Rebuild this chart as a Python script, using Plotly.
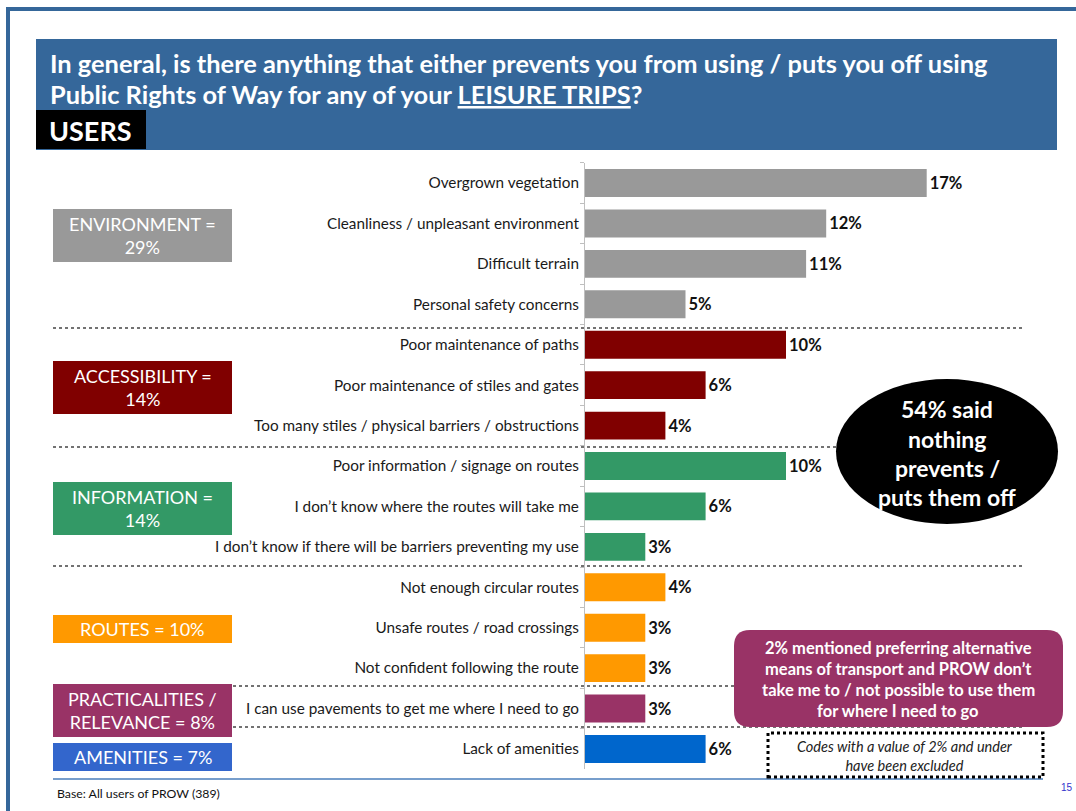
import plotly.graph_objects as go

W, H = 1076, 811

categories = [
    "Overgrown vegetation",
    "Cleanliness / unpleasant environment",
    "Difficult terrain",
    "Personal safety concerns",
    "Poor maintenance of paths",
    "Poor maintenance of stiles and gates",
    "Too many stiles / physical barriers / obstructions",
    "Poor information / signage on routes",
    "I don’t know where the routes will take me",
    "I don’t know if there will be barriers preventing my use",
    "Not enough circular routes",
    "Unsafe routes / road crossings",
    "Not confident following the route",
    "I can use pavements to get me where I need to go",
    "Lack of amenities",
]
values = [17, 12, 11, 5, 10, 6, 4, 10, 6, 3, 4, 3, 3, 3, 6]
groups = ["env"] * 4 + ["acc"] * 3 + ["info"] * 3 + ["routes"] * 3 + ["pract"] + ["amen"]

group_names = ["env", "acc", "info", "routes", "pract", "amen"]
group_labels = ["ENVIRONMENT =<br>29%", "ACCESSIBILITY =<br>14%", "INFORMATION =<br>14%",
                "ROUTES = 10%", "PRACTICALITIES /<br>RELEVANCE = 8%", "AMENITIES = 7%"]
bar_colors = {"env": "#999999", "acc": "#800000", "info": "#339966",
              "routes": "#FF9900", "pract": "#993366", "amen": "#0066CC"}
box_colors = {"env": "#999999", "acc": "#800000", "info": "#339966",
              "routes": "#FF9900", "pract": "#993366", "amen": "#3366CC"}
# box pixel extents (top, bottom)
box_y = {"env": (209, 262), "acc": (361, 414), "info": (482, 535),
         "routes": (615, 643), "pract": (684, 737), "amen": (743, 771)}


def px(x):
    return x / W


def py(y):
    return 1 - y / H


FONT = "Lato"

fig = go.Figure()
fig.add_trace(go.Bar(
    y=categories, x=values, orientation="h",
    marker=dict(color=[bar_colors[g] for g in groups], line=dict(width=0)),
    width=0.69,
    text=[f"{v}%" for v in values], textposition="outside",
    textfont=dict(family=FONT, size=16.5, color="#111111", weight="bold"),
    cliponaxis=False, hoverinfo="skip",
))

shapes = []
annotations = []

# slide frame
shapes.append(dict(type="line", xref="paper", yref="paper", x0=px(6), x1=px(1076), y0=py(9), y1=py(9),
                   line=dict(color="#35679A", width=4)))
shapes.append(dict(type="line", xref="paper", yref="paper", x0=px(8), x1=px(8), y0=py(7), y1=py(811),
                   line=dict(color="#35679A", width=4)))

# title banner
shapes.append(dict(type="rect", xref="paper", yref="paper", x0=px(36), x1=px(1057), y0=py(150), y1=py(39),
                   fillcolor="#35679A", line=dict(width=0), layer="below"))
shapes.append(dict(type="rect", xref="paper", yref="paper", x0=px(36), x1=px(146), y0=py(149), y1=py(110),
                   fillcolor="#000000", line=dict(width=0)))
annotations.append(dict(xref="paper", yref="paper", x=px(48), y=py(63), xanchor="left", yanchor="middle",
                        showarrow=False, align="left",
                        text="In general, is there anything that either prevents you from using / puts you off using",
                        font=dict(family=FONT, size=25.4, color="white", weight="bold")))
annotations.append(dict(xref="paper", yref="paper", x=px(48), y=py(94), xanchor="left", yanchor="middle",
                        showarrow=False, align="left",
                        text="Public Rights of Way for any of your <u>LEISURE TRIPS</u>?",
                        font=dict(family=FONT, size=25.4, color="white", weight="bold")))
annotations.append(dict(xref="paper", yref="paper", x=px(90), y=py(130), xanchor="center", yanchor="middle",
                        showarrow=False, text="USERS",
                        font=dict(family=FONT, size=27, color="white", weight="bold")))

# group boxes
for g, lab in zip(group_names, group_labels):
    t, b = box_y[g]
    shapes.append(dict(type="rect", xref="paper", yref="paper", x0=px(53), x1=px(232), y0=py(b), y1=py(t),
                       fillcolor=box_colors[g], line=dict(width=0)))
    annotations.append(dict(xref="paper", yref="paper", x=px(142.5), y=py((t + b) / 2), xanchor="center",
                            yanchor="middle", showarrow=False, text=lab, align="center",
                            font=dict(family=FONT, size=18, color="white")))

# dotted separators
for y0, xa, xb in [(328, 53, 1024), (447, 53, 1024), (566, 53, 1024), (686, 233, 1024), (727, 233, 1024)]:
    shapes.append(dict(type="line", xref="paper", yref="paper", x0=px(xa), x1=px(xb), y0=py(y0), y1=py(y0),
                       line=dict(color="#444444", width=1.5, dash="dot")))

# black ellipse
shapes.append(dict(type="circle", xref="paper", yref="paper", x0=px(836), x1=px(1058), y0=py(524), y1=py(379),
                   fillcolor="#000000", line=dict(width=0)))
for txt, yy in [("54% said", 409), ("nothing", 439), ("prevents /", 468), ("puts them off", 497)]:
    annotations.append(dict(xref="paper", yref="paper", x=px(947), y=py(yy), xanchor="center", yanchor="middle",
                            showarrow=False, text=txt,
                            font=dict(family=FONT, size=23, color="white", weight="bold")))

# purple rounded box
x0, x1, y0, y1, r = 734, 1063, 630, 727, 16


def P(x, y):
    return f"{px(x):.5f},{py(y):.5f}"


path = (f"M {P(x0 + r, y0)} L {P(x1 - r, y0)} Q {P(x1, y0)} {P(x1, y0 + r)} "
        f"L {P(x1, y1 - r)} Q {P(x1, y1)} {P(x1 - r, y1)} L {P(x0 + r, y1)} "
        f"Q {P(x0, y1)} {P(x0, y1 - r)} L {P(x0, y0 + r)} Q {P(x0, y0)} {P(x0 + r, y0)} Z")
shapes.append(dict(type="path", xref="paper", yref="paper", path=path, fillcolor="#993366",
                   line=dict(width=0)))
for txt, yy in [("2% mentioned preferring alternative", 648), ("means of transport and PROW don’t", 669),
                ("take me to / not possible to use them", 690), ("for where I need to go", 711)]:
    annotations.append(dict(xref="paper", yref="paper", x=px(898), y=py(yy), xanchor="center", yanchor="middle",
                            showarrow=False, text=txt,
                            font=dict(family=FONT, size=16.5, color="white", weight="bold")))

# codes box
shapes.append(dict(type="rect", xref="paper", yref="paper", x0=px(768), x1=px(1043), y0=py(777), y1=py(733),
                   fillcolor="white", line=dict(color="#000000", width=3, dash="dot")))
annotations.append(dict(xref="paper", yref="paper", x=px(905), y=py(756), xanchor="center", yanchor="middle",
                        showarrow=False, text="<i>Codes with a value of 2% and under<br>have been excluded</i>",
                        font=dict(family=FONT, size=14.5, color="#222222")))

# bottom line and footer
shapes.append(dict(type="line", xref="paper", yref="paper", x0=px(53), x1=px(1043), y0=py(779), y1=py(779),
                   line=dict(color="#4A7EBB", width=1.5), layer="below"))
annotations.append(dict(xref="paper", yref="paper", x=px(55), y=py(793), xanchor="left", yanchor="middle",
                        showarrow=False, text="Base: All users of PROW (389)",
                        font=dict(family=FONT, size=12.3, color="#111111")))
annotations.append(dict(xref="paper", yref="paper", x=px(1067), y=py(787), xanchor="center", yanchor="middle",
                        showarrow=False, text="15",
                        font=dict(family="Liberation Sans", size=10, color="#3333CC")))

fig.update_layout(
    width=W, height=H, margin=dict(l=0, r=0, t=0, b=0),
    paper_bgcolor="white", plot_bgcolor="white",
    showlegend=False, shapes=shapes, annotations=annotations,
    bargap=0.31,
    xaxis=dict(domain=[585 / W, 1], range=[0, 491 / 20.1], visible=False, fixedrange=True),
    yaxis=dict(domain=[1 - 769.2 / H, 1 - 162.8 / H], type="category", categoryorder="array",
               categoryarray=categories, range=[14.5, -0.5],
               showline=True, linecolor="#BFBFBF", linewidth=1,
               ticks="outside", ticklen=4, tickcolor="#BFBFBF", tickson="boundaries",
               ticklabelstandoff=2,
               tickfont=dict(family=FONT, size=15.3, color="#1a1a1a"),
               showgrid=False, zeroline=False, fixedrange=True),
)

fig.write_html("out.html", config={"displayModeBar": False},
               post_script="document.body.style.margin='0';document.body.style.overflow='hidden';")
